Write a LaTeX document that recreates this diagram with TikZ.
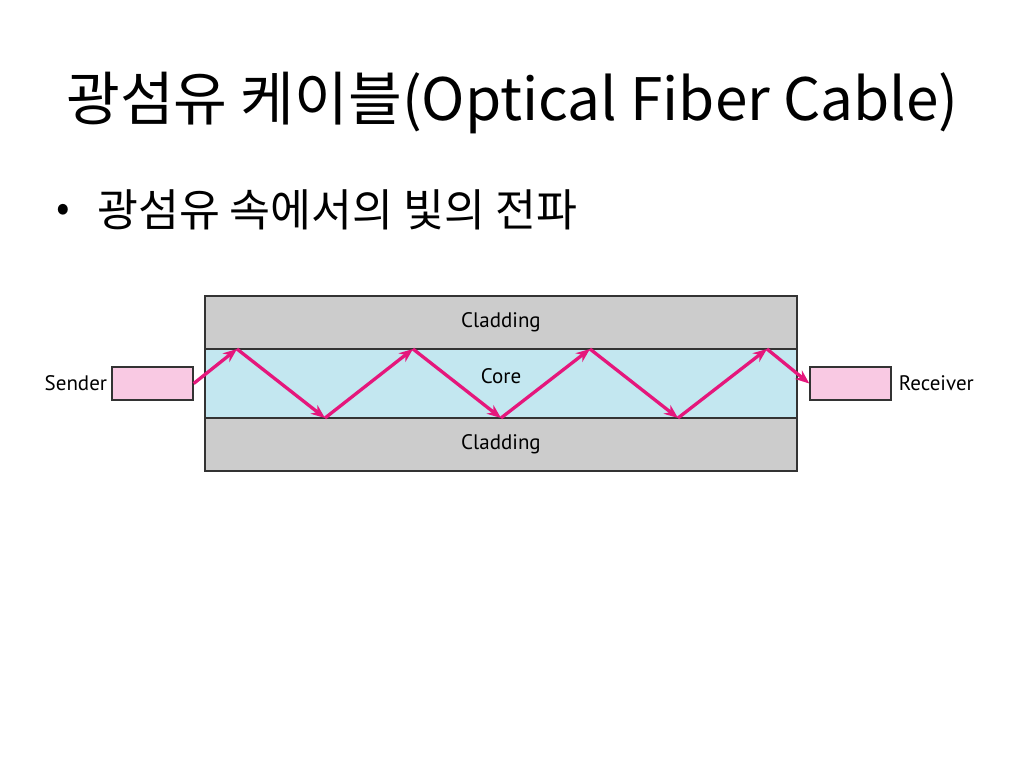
\documentclass[tikz,border=0pt]{standalone}
\usepackage{fontspec}
\setmainfont{Noto Sans CJK KR}
\newfontfamily\figfont{PT Sans}
\usetikzlibrary{arrows.meta}
\definecolor{cladgray}{RGB}{204,204,204}
\definecolor{coreblue}{RGB}{195,231,240}
\definecolor{boxpink}{RGB}{249,201,227}
\definecolor{raypink}{RGB}{229,23,124}
\tikzset{
  ray/.style={draw=raypink,line width=3.3pt,-{Stealth[length=14pt,width=11pt]}},
  endbox/.style={draw=black!80,fill=boxpink,line width=1.4pt,minimum width=81pt,minimum height=33pt,inner sep=0pt},
  lbl/.style={font=\figfont\fontsize{21}{24}\selectfont,inner sep=0pt}
}
\begin{document}
\begin{tikzpicture}[x=1pt,y=-1pt]
\useasboundingbox[fill=white] (0,0) rectangle (1024,768);
%\draw[help lines] (0,0) grid (1024,768);
\node (title) at (66,120) [anchor=base west,inner sep=0pt,font=\fontsize{58.5}{66}\selectfont] {광섬유 케이블(Optical Fiber Cable)};
\node (dot) at (63.5,213) [inner sep=0pt,font=\fontsize{40}{44}\selectfont] {•};
\node (point) at (97,226) [anchor=base west,inner sep=0pt,font=\fontsize{44.5}{50}\selectfont] {광섬유 속에서의 빛의 전파};

% fiber
\draw [draw=black!80,fill=cladgray,line width=1.6pt] (205,296) rectangle (797,471);
\draw [draw=black!80,fill=coreblue,line width=1.6pt] (205,349) rectangle (797,418);
\node (cladtop) at (501,322) [lbl] {Cladding};
\node (core) at (501,376) [lbl] {Core};
\node (cladbot) at (501,444) [lbl] {Cladding};

\node (sender) at (152.5,383.5) [endbox] {};
\node (receiver) at (850.5,383.5) [endbox] {};
\node at (sender.west) [lbl,anchor=east,xshift=-4pt] {Sender};
\node at (receiver.east) [lbl,anchor=west,xshift=7pt] {Receiver};

\coordinate (t1) at (237,349);
\coordinate (b1) at (325,418);
\coordinate (t2) at (413,349);
\coordinate (b2) at (501,418);
\coordinate (t3) at (590,349);
\coordinate (b3) at (678,418);
\coordinate (t4) at (767,349);

\draw [ray] (sender.east) -- (t1);
\draw [ray] (t1) -- (b1);
\draw [ray] (b1) -- (t2);
\draw [ray] (t2) -- (b2);
\draw [ray] (b2) -- (t3);
\draw [ray] (t3) -- (b3);
\draw [ray] (b3) -- (t4);
\draw [ray] (t4) -- (receiver.west);
\end{tikzpicture}
\end{document}
